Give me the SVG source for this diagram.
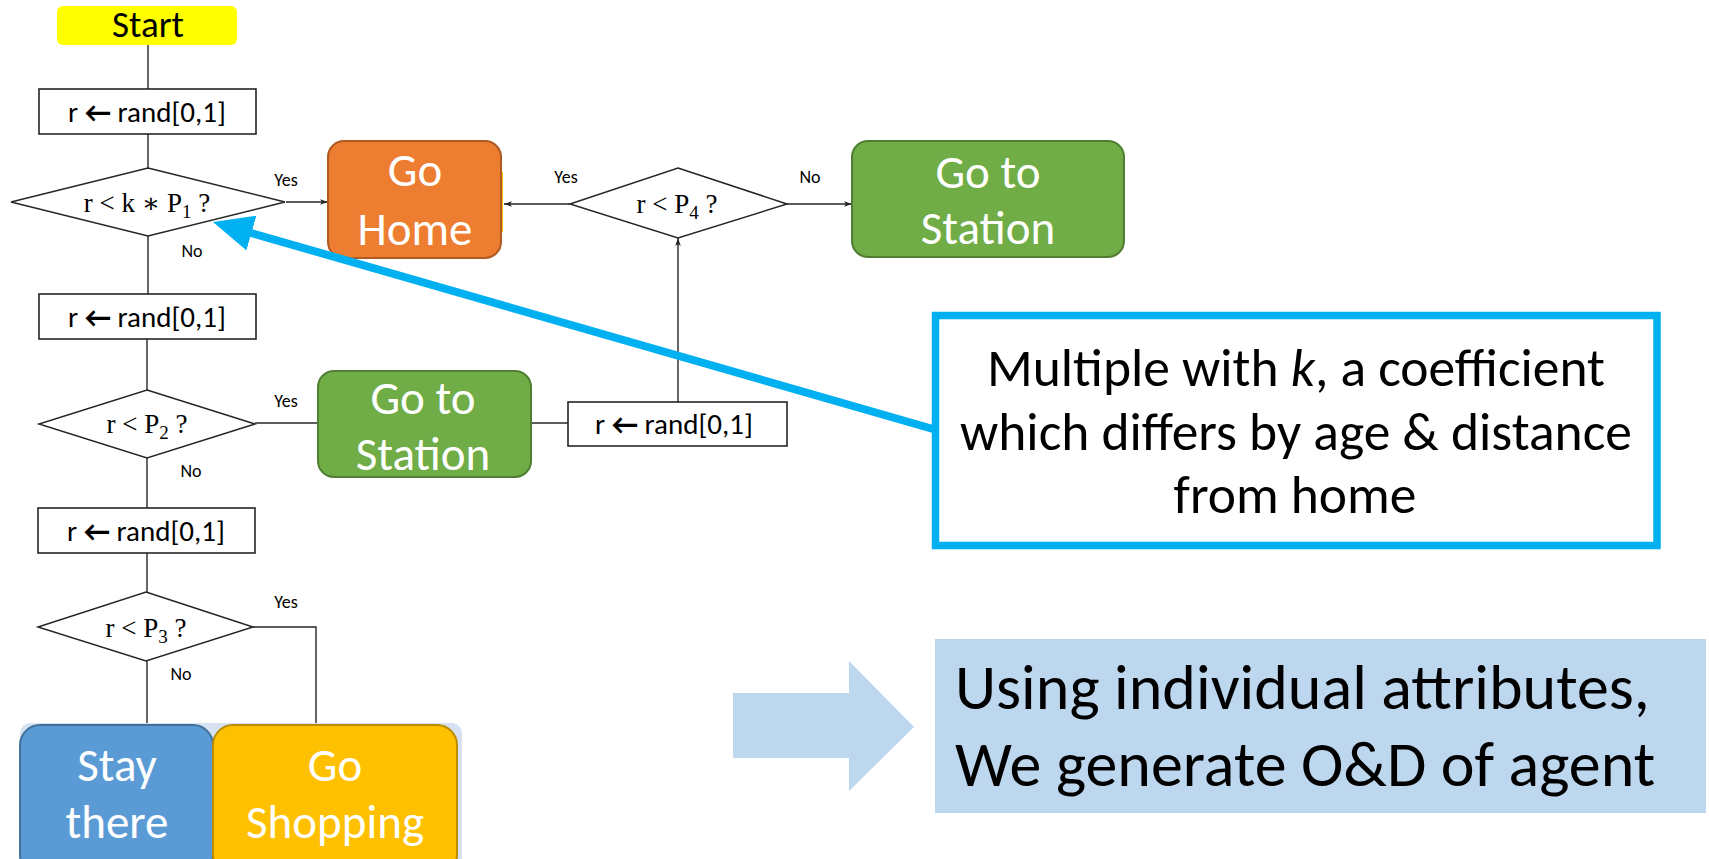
<svg xmlns="http://www.w3.org/2000/svg" width="1709" height="859" viewBox="0 0 1709 859">
<style>
.sans{font-family:Carlito,Calibri,Lato,"Liberation Sans",sans-serif}
.serif{font-family:"Liberation Serif","DejaVu Serif",serif}
.conn{fill:none;stroke:#262626;stroke-width:1.4}
.box{fill:#ffffff;stroke:#262626;stroke-width:1.6}
.dia{fill:#ffffff;stroke:#262626;stroke-width:1.5}
.lbl{font-size:18px;fill:#000}
.rnd{font-size:29px;fill:#000}
.cond{font-size:27px;fill:#000}
.node{font-size:47px;fill:#ffffff}
</style>
<defs>
<marker id="arr" viewBox="0 0 10 10" refX="10" refY="5" markerWidth="8" markerHeight="8" markerUnits="userSpaceOnUse" orient="auto">
<path d="M0,1.5 L10,5 L0,8.5 L2.5,5 z" fill="#262626"/>
</marker>
<marker id="blueHead" viewBox="0 0 40 36" refX="10" refY="18" markerWidth="40" markerHeight="36" markerUnits="userSpaceOnUse" orient="auto">
<path d="M0,0 L40,18 L0,36 z" fill="#00B0F0"/>
</marker>
</defs>
<rect width="1709" height="859" fill="#ffffff"/>

<g id="connectors">
<line class="conn" x1="148" y1="45" x2="148" y2="89"/>
<line class="conn" x1="148" y1="134" x2="148" y2="168"/>
<line class="conn" x1="286" y1="202" x2="328" y2="202" marker-end="url(#arr)"/>
<line class="conn" x1="148" y1="236" x2="148" y2="294"/>
<line class="conn" x1="147" y1="339" x2="147" y2="390"/>
<line class="conn" x1="255" y1="423" x2="318" y2="423"/>
<line class="conn" x1="531" y1="423" x2="568" y2="423"/>
<line class="conn" x1="678" y1="402" x2="678" y2="238" marker-end="url(#arr)"/>
<line class="conn" x1="570" y1="204" x2="504" y2="204" marker-end="url(#arr)"/>
<line class="conn" x1="787" y1="204" x2="852" y2="204" marker-end="url(#arr)"/>
<line class="conn" x1="147" y1="458" x2="147" y2="508"/>
<line class="conn" x1="147" y1="553" x2="147" y2="592"/>
<line class="conn" x1="147" y1="661" x2="147" y2="725"/>
<polyline class="conn" points="253,627 316,627 316,725"/>
<text class="sans lbl" x="286" y="186" text-anchor="middle">Yes</text>
<text class="sans lbl" x="192" y="257" text-anchor="middle">No</text>
<text class="sans lbl" x="566" y="183" text-anchor="middle">Yes</text>
<text class="sans lbl" x="810" y="183" text-anchor="middle">No</text>
<text class="sans lbl" x="286" y="407" text-anchor="middle">Yes</text>
<text class="sans lbl" x="191" y="477" text-anchor="middle">No</text>
<text class="sans lbl" x="286" y="608" text-anchor="middle">Yes</text>
<text class="sans lbl" x="181" y="680" text-anchor="middle">No</text>
</g>

<g id="start">
<rect x="57" y="6" width="180" height="39" rx="6" fill="#FFFF00"/>
<text class="sans" x="148" y="37" font-size="37" text-anchor="middle" fill="#000">Start</text>
</g>

<g id="rand1">
<rect class="box" x="39" y="89" width="217" height="45"/>
<text class="sans rnd" x="147" y="122" text-anchor="middle">r <tspan font-weight="bold">←</tspan> rand[0,1]</text>
</g>

<g id="cond1">
<polygon class="dia" points="148,168 285,202 148,236 11,202"/>
<text class="serif cond" x="147" y="212" text-anchor="middle">r &lt; k ∗ P<tspan font-size="19" dy="6">1</tspan><tspan dy="-6"> ?</tspan></text>
</g>

<g id="goHome">
<rect x="497" y="172" width="6" height="60" fill="#FFC000"/>
<rect x="328" y="141" width="173" height="117" rx="16" fill="#ED7D31" stroke="#AE5A21" stroke-width="2"/>
<text class="sans node" x="415" y="186" text-anchor="middle">Go</text>
<text class="sans node" x="415" y="245" text-anchor="middle">Home</text>
</g>

<g id="cond4">
<polygon class="dia" points="678,168 787,204 678,238 570,204"/>
<text class="serif cond" x="677" y="213" text-anchor="middle">r &lt; P<tspan font-size="19" dy="6">4</tspan><tspan dy="-6"> ?</tspan></text>
</g>

<g id="goStation1">
<rect x="852" y="141" width="272" height="116" rx="16" fill="#70AD47" stroke="#507E32" stroke-width="2"/>
<text class="sans node" x="988" y="188" text-anchor="middle">Go to</text>
<text class="sans node" x="988" y="244" text-anchor="middle">Station</text>
</g>

<g id="rand2">
<rect class="box" x="39" y="294" width="217" height="45"/>
<text class="sans rnd" x="147" y="327" text-anchor="middle">r <tspan font-weight="bold">←</tspan> rand[0,1]</text>
</g>

<g id="cond2">
<polygon class="dia" points="147,390 255,424 147,458 39,424"/>
<text class="serif cond" x="147" y="433" text-anchor="middle">r &lt; P<tspan font-size="19" dy="6">2</tspan><tspan dy="-6"> ?</tspan></text>
</g>

<g id="goStation2">
<rect x="318" y="371" width="213" height="106" rx="16" fill="#70AD47" stroke="#507E32" stroke-width="2"/>
<text class="sans node" x="423" y="414" text-anchor="middle" font-size="45">Go to</text>
<text class="sans node" x="423" y="470" text-anchor="middle" font-size="45">Station</text>
</g>

<g id="rand4">
<rect class="box" x="568" y="402" width="219" height="44"/>
<text class="sans rnd" x="674" y="434" text-anchor="middle">r <tspan font-weight="bold">←</tspan> rand[0,1]</text>
</g>

<g id="rand3">
<rect class="box" x="38" y="508" width="217" height="45"/>
<text class="sans rnd" x="146" y="541" text-anchor="middle">r <tspan font-weight="bold">←</tspan> rand[0,1]</text>
</g>

<g id="cond3">
<polygon class="dia" points="146,592 253,627 146,661 38,627"/>
<text class="serif cond" x="146" y="637" text-anchor="middle">r &lt; P<tspan font-size="19" dy="6">3</tspan><tspan dy="-6"> ?</tspan></text>
</g>

<g id="endGroup">
<rect x="20" y="723" width="442" height="160" rx="10" fill="#D6E2F2"/>
</g>

<g id="stayThere">
<rect x="20" y="725" width="193" height="150" rx="20" fill="#5B9BD5" stroke="#41719C" stroke-width="2"/>
<text class="sans node" x="117" y="781" text-anchor="middle">Stay</text>
<text class="sans node" x="117" y="838" text-anchor="middle">there</text>
</g>

<g id="goShopping">
<rect x="213" y="725" width="244" height="150" rx="20" fill="#FFC000" stroke="#BC8C00" stroke-width="2"/>
<text class="sans node" x="335" y="781" text-anchor="middle">Go</text>
<text class="sans node" x="335" y="838" text-anchor="middle">Shopping</text>
</g>

<g id="callout">
<line x1="933" y1="429" x2="241.8" y2="230.3" stroke="#00B0F0" stroke-width="8" marker-end="url(#blueHead)"/>
<rect x="935.5" y="315.5" width="721.5" height="230" fill="#ffffff" stroke="#00B0F0" stroke-width="7.5"/>
<text class="sans" font-size="53.5" fill="#000" text-anchor="middle">
<tspan x="1302" y="386">Multiple with <tspan font-style="italic">k</tspan>, a coefficient</tspan>
<tspan x="1302" y="450">which differs by age &amp; distance</tspan>
<tspan x="1295" y="513">from home</tspan>
</text>
</g>

<g id="summary">
<polygon points="733,693 849,693 849,661 914,727 849,791 849,758 733,758" fill="#BDD7EE"/>
<rect x="935" y="639" width="771" height="174" fill="#BDD7EE"/>
<text class="sans" font-size="64" fill="#000">
<tspan x="955" y="709">Using individual attributes,</tspan>
<tspan x="955" y="786">We generate O&amp;D of agent</tspan>
</text>
</g>
</svg>
